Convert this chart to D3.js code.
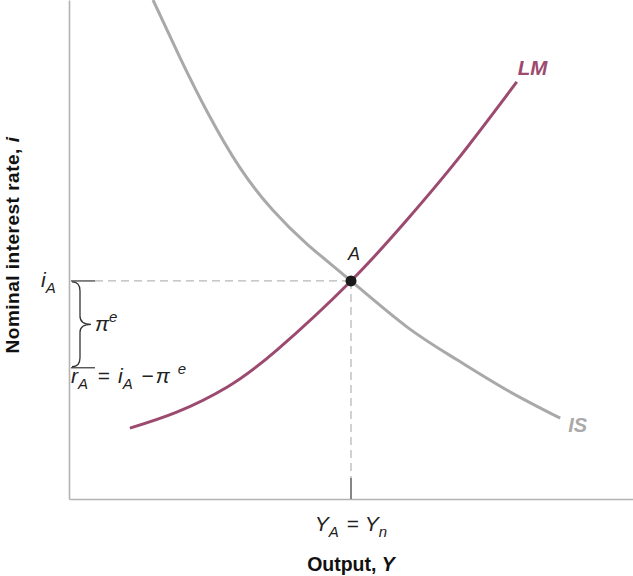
<!DOCTYPE html>
<html>
<head>
<meta charset="utf-8">
<script src="https://cdn.jsdelivr.net/npm/d3@7"></script>
<style>
  html, body { margin: 0; padding: 0; background: #fff; }
  svg { display: block; font-family: "Liberation Sans", Arial, Helvetica, sans-serif; }
</style>
</head>
<body>
<svg id="chart" width="633" height="576"></svg>
<script>
// ---- data (chart units: output 0..100, interest rate 0..100) ----
const isX = [14.9, 19.7, 24.5, 30.3, 36.2, 42.2, 50.0, 59.9, 68.8, 77.7, 87.1];
const isY = [100, 88.4, 77.6, 66.4, 57.8, 51.1, 43.7, 34.5, 27.9, 21.8, 16.2];
const lmX = [10.8, 19.1, 28.0, 36.9, 50.0, 59.9, 68.8, 79.4];
const lmY = [14.2, 17.4, 22.4, 29.9, 43.7, 55.9, 67.9, 83.6];
const pointA = { x: 50.0, i: 43.7, r: 26.3 };
const curveLabels = ["LM", "IS"];

// ---- layout ----
const svg = d3.select("#chart");
const x = d3.scaleLinear().domain([0, 100]).range([69, 633]);
const y = d3.scaleLinear().domain([0, 100]).range([499, 0]);

const lmColor = "#9c4a6f";
const isColor = "#a9a9a9";
const axisColor = "#b3b3b3";
const mathSize = 21, subSize = 15;

// axes (no ticks)
svg.append("g").attr("transform", `translate(0,${y(0)})`)
  .call(d3.axisBottom(x).tickValues([]).tickSizeOuter(0));
svg.append("g").attr("transform", `translate(${x(0)},0)`)
  .call(d3.axisLeft(y).tickValues([]).tickSizeOuter(0));
svg.selectAll(".domain").attr("stroke", axisColor).attr("stroke-width", 1.6);

// dashed guides
svg.append("line")
  .attr("x1", x(0) + 26).attr("x2", x(pointA.x))
  .attr("y1", y(pointA.i)).attr("y2", y(pointA.i))
  .attr("stroke", "#b8b8b8").attr("stroke-width", 1.3).attr("stroke-dasharray", "8,5");
svg.append("line")
  .attr("x1", x(pointA.x)).attr("x2", x(pointA.x))
  .attr("y1", y(pointA.i)).attr("y2", y(0) - 21)
  .attr("stroke", "#b8b8b8").attr("stroke-width", 1.3).attr("stroke-dasharray", "8,5");
// dark tick at Y_A
svg.append("line")
  .attr("x1", x(pointA.x)).attr("x2", x(pointA.x))
  .attr("y1", y(0) - 21).attr("y2", y(0))
  .attr("stroke", "#444").attr("stroke-width", 1.3);

// short dark ticks on y axis at i_A and r_A
[pointA.i, pointA.r].forEach(v => {
  svg.append("line")
    .attr("x1", x(0) + 2).attr("x2", x(0) + 26)
    .attr("y1", y(v)).attr("y2", y(v))
    .attr("stroke", "#444").attr("stroke-width", 1.3);
});

// brace
const bx0 = x(0) + 3, bx1 = x(0) + 11, bx2 = x(0) + 22;
const yt = y(pointA.i) + 1, yb = y(pointA.r) - 1, ym = (yt + yb) / 2;
svg.append("path")
  .attr("d", `M${bx0},${yt} Q${bx1},${yt} ${bx1},${yt + 9} L${bx1},${ym - 8} Q${bx1},${ym} ${bx2},${ym}
              Q${bx1},${ym} ${bx1},${ym + 8} L${bx1},${yb - 9} Q${bx1},${yb} ${bx0},${yb}`)
  .attr("fill", "none").attr("stroke", "#333").attr("stroke-width", 1.3);

// curves
const line = d3.line().x(d => x(d[0])).y(d => y(d[1])).curve(d3.curveNatural);
svg.append("path").datum(d3.zip(isX, isY))
  .attr("d", line).attr("fill", "none").attr("stroke", isColor).attr("stroke-width", 3);
svg.append("path").datum(d3.zip(lmX, lmY))
  .attr("d", line).attr("fill", "none").attr("stroke", lmColor).attr("stroke-width", 3);

// point A
svg.append("circle").attr("cx", x(pointA.x)).attr("cy", y(pointA.i)).attr("r", 5.5).attr("fill", "#1a1a1a");
svg.append("text").attr("x", x(pointA.x) + 3).attr("y", y(pointA.i) - 21)
  .attr("text-anchor", "middle").attr("font-size", 18).attr("font-style", "italic").attr("fill", "#222").text("A");

// curve labels
svg.append("text").attr("x", x(lmX[lmX.length - 1]) + 1).attr("y", y(lmY[lmY.length - 1]) - 7)
  .attr("font-size", 20.5).attr("font-weight", "bold").attr("font-style", "italic").attr("fill", lmColor).text(curveLabels[0]);
svg.append("text").attr("x", x(isX[isX.length - 1]) + 8).attr("y", y(isY[isY.length - 1]) + 14)
  .attr("font-size", 20).attr("font-weight", "bold").attr("font-style", "italic").attr("fill", isColor).text(curveLabels[1]);

// i_A label
const iA = svg.append("text").attr("x", x(0) - 28).attr("y", y(pointA.i) + 6)
  .attr("font-size", mathSize).attr("font-style", "italic").attr("fill", "#222");
iA.append("tspan").text("i");
iA.append("tspan").attr("font-size", subSize).attr("dy", 6).text("A");

// pi^e label
const pe = svg.append("text").attr("x", bx2 + 4).attr("y", ym + 7)
  .attr("font-size", mathSize).attr("font-style", "italic").attr("fill", "#222");
pe.append("tspan").text("π");
pe.append("tspan").attr("font-size", subSize).attr("dy", -9).text("e");

// r_A = i_A − π e
const rA = svg.append("text").attr("x", x(0) + 2).attr("y", y(pointA.r) + 15)
  .attr("font-size", mathSize).attr("fill", "#222");
rA.append("tspan").attr("font-style", "italic").text("r");
rA.append("tspan").attr("font-style", "italic").attr("font-size", subSize).attr("dy", 6).text("A");
rA.append("tspan").attr("dy", -6).attr("dx", 4).text(" = ");
rA.append("tspan").attr("font-style", "italic").attr("dx", 2).text("i");
rA.append("tspan").attr("font-style", "italic").attr("font-size", subSize).attr("dy", 6).text("A");
rA.append("tspan").attr("dy", -6).attr("dx", 3).text(" −");
rA.append("tspan").attr("font-style", "italic").attr("dx", 2).text("π ");
rA.append("tspan").attr("font-style", "italic").attr("font-size", subSize).attr("dy", -9).attr("dx", 2).text("e");

// Y_A = Y_n
const yl = svg.append("text").attr("x", x(pointA.x)).attr("y", y(0) + 32)
  .attr("text-anchor", "middle").attr("font-size", mathSize).attr("fill", "#222");
yl.append("tspan").attr("font-style", "italic").text("Y");
yl.append("tspan").attr("font-style", "italic").attr("font-size", subSize).attr("dy", 6).text("A");
yl.append("tspan").attr("dy", -6).attr("dx", 2).text(" = ");
yl.append("tspan").attr("font-style", "italic").text("Y");
yl.append("tspan").attr("font-style", "italic").attr("font-size", subSize).attr("dy", 6).text("n");

// axis titles
const xt = svg.append("text").attr("x", x(pointA.x)).attr("y", y(0) + 72)
  .attr("text-anchor", "middle").attr("font-size", 19.5).attr("font-weight", "bold").attr("fill", "#111");
xt.append("tspan").text("Output, ");
xt.append("tspan").attr("font-style", "italic").text("Y");

const ytl = svg.append("text").attr("transform", `translate(19,${245}) rotate(-90)`)
  .attr("text-anchor", "middle").attr("font-size", 19).attr("letter-spacing", 0.5)
  .attr("font-weight", "bold").attr("fill", "#111");
ytl.append("tspan").text("Nominal interest rate, ");
ytl.append("tspan").attr("font-style", "italic").text("i");
</script>
</body>
</html>
